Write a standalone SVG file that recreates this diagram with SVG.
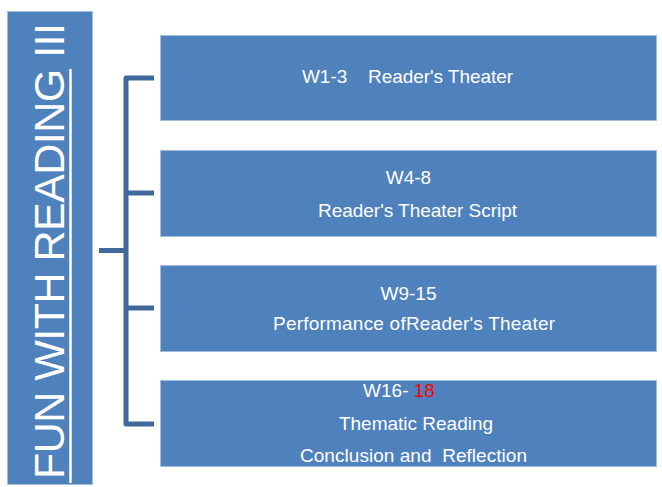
<svg xmlns="http://www.w3.org/2000/svg" width="662" height="487" viewBox="0 0 662 487">
<style>
.box{fill:#4f81bd;stroke:#a6bedd;stroke-width:1}
.t{font-family:"Liberation Sans",Arial,sans-serif;font-size:19px;fill:#ffffff;text-anchor:middle}
.c{fill:none;stroke:#41699c;stroke-width:5;stroke-linejoin:round}
</style>
<rect width="662" height="487" fill="#ffffff"/>
<g id="title">
<rect class="box" x="7.5" y="11.5" width="85" height="473"/>
<text transform="translate(64,479) rotate(-90)" x="0" y="0" font-family="'Liberation Sans',Arial,sans-serif" font-size="43" fill="#ffffff" textLength="456" lengthAdjust="spacing">FUN WITH READING III</text>
<line x1="70.5" y1="69" x2="70.5" y2="483" stroke="#ffffff" stroke-width="2.5"/>
</g>
<g id="connectors">
<path class="c" d="M154,78 H126 V424 H154"/>
<path class="c" d="M99,250.5 H126"/>
<path class="c" d="M126,193 H154"/>
<path class="c" d="M126,308 H154"/>
</g>
<g id="box1">
<rect class="box" x="160.5" y="35.5" width="496" height="85"/>
<text class="t" x="407.5" y="83" textLength="211" lengthAdjust="spacing" xml:space="preserve">W1-3    Reader's Theater</text>
</g>
<g id="box2">
<rect class="box" x="160.5" y="150.5" width="496" height="86"/>
<text class="t" x="408.5" y="184">W4-8</text>
<text class="t" x="417.5" y="216.5" textLength="199" lengthAdjust="spacing">Reader's Theater Script</text>
</g>
<g id="box3">
<rect class="box" x="160.5" y="265.5" width="496" height="86"/>
<text class="t" x="408.5" y="300">W9-15</text>
<text class="t" x="414" y="330" textLength="282" lengthAdjust="spacing">Performance ofReader's Theater</text>
</g>
<g id="box4">
<rect class="box" x="160.5" y="380.5" width="496" height="86"/>
<text class="t" x="399" y="397">W16- <tspan fill="#ff0000">18</tspan></text>
<text class="t" x="416" y="430">Thematic Reading</text>
<text class="t" x="413.5" y="461.5" textLength="227" lengthAdjust="spacing" xml:space="preserve">Conclusion and  Reflection</text>
</g>
</svg>
